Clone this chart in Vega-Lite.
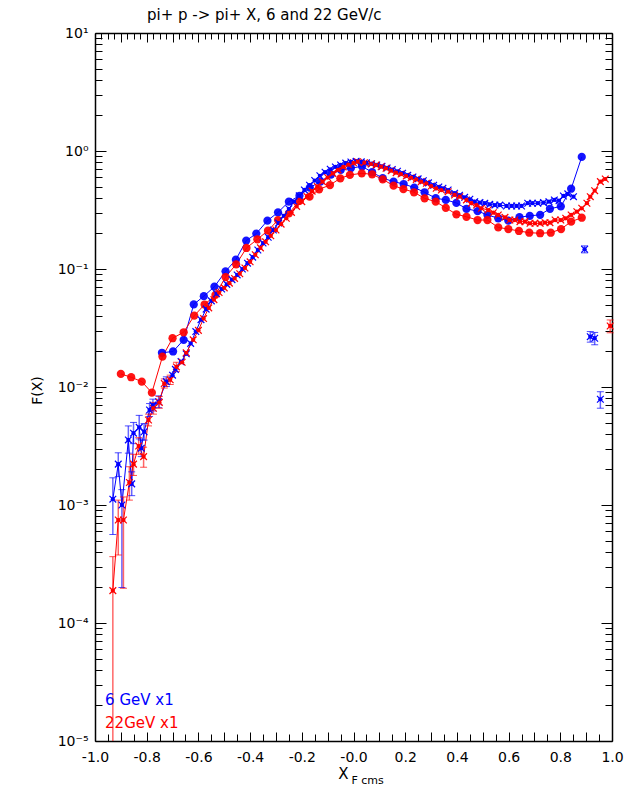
{
  "$schema": "https://vega.github.io/schema/vega-lite/v6.json",
  "width": 517,
  "height": 708,
  "autosize": {"type": "none"},
  "padding": {"left": 95, "top": 33, "right": 20, "bottom": 58},
  "background": "white",
  "config": {"view": {"stroke": null}, "font": "DejaVu Sans"},
  "title": {"text": "pi+ p -> pi+ X, 6 and 22 GeV/c", "anchor": "start", "frame": "group", "dx": 52, "offset": 3, "fontSize": 15, "fontWeight": "normal", "font": "DejaVu Sans", "color": "black"},
  "datasets": {
    "pts": [
      {"s":"BC","x":-0.741,"y":0.0195},{"s":"BC","x":-0.698,"y":0.0200},{"s":"BC","x":-0.657,"y":0.0251},{"s":"BC","x":-0.618,"y":0.0501},{"s":"BC","x":-0.579,"y":0.0589},{"s":"BC","x":-0.538,"y":0.0708},{"s":"BC","x":-0.495,"y":0.0955},{"s":"BC","x":-0.455,"y":0.120},{"s":"BC","x":-0.415,"y":0.174},{"s":"BC","x":-0.376,"y":0.1995},{"s":"BC","x":-0.333,"y":0.257},{"s":"BC","x":-0.292,"y":0.302},{"s":"BC","x":-0.250,"y":0.372},{"s":"BC","x":-0.209,"y":0.417},{"s":"BC","x":-0.169,"y":0.490},{"s":"BC","x":-0.128,"y":0.550},{"s":"BC","x":-0.087,"y":0.631},{"s":"BC","x":-0.049,"y":0.692},{"s":"BC","x":-0.010,"y":0.716},{"s":"BC","x":0.033,"y":0.741},{"s":"BC","x":0.072,"y":0.661},{"s":"BC","x":0.113,"y":0.589},{"s":"BC","x":0.155,"y":0.550},{"s":"BC","x":0.194,"y":0.525},{"s":"BC","x":0.235,"y":0.490},{"s":"BC","x":0.275,"y":0.447},{"s":"BC","x":0.318,"y":0.398},{"s":"BC","x":0.357,"y":0.385},{"s":"BC","x":0.398,"y":0.363},{"s":"BC","x":0.437,"y":0.324},{"s":"BC","x":0.480,"y":0.309},{"s":"BC","x":0.518,"y":0.288},{"s":"BC","x":0.560,"y":0.269},{"s":"BC","x":0.599,"y":0.257},{"s":"BC","x":0.642,"y":0.275},{"s":"BC","x":0.682,"y":0.282},{"s":"BC","x":0.722,"y":0.288},{"s":"BC","x":0.760,"y":0.324},{"s":"BC","x":0.802,"y":0.339},{"s":"BC","x":0.842,"y":0.479},{"s":"BC","x":0.883,"y":0.891},

      {"s":"RC","x":-0.900,"y":0.0129},{"s":"RC","x":-0.860,"y":0.0121},{"s":"RC","x":-0.819,"y":0.0111},{"s":"RC","x":-0.780,"y":0.00895},{"s":"RC","x":-0.739,"y":0.0181},{"s":"RC","x":-0.700,"y":0.0259},{"s":"RC","x":-0.657,"y":0.0291},{"s":"RC","x":-0.616,"y":0.0402},{"s":"RC","x":-0.576,"y":0.0500},{"s":"RC","x":-0.534,"y":0.0603},{"s":"RC","x":-0.495,"y":0.0855},{"s":"RC","x":-0.454,"y":0.1096},{"s":"RC","x":-0.414,"y":0.1507},{"s":"RC","x":-0.372,"y":0.1786},{"s":"RC","x":-0.331,"y":0.2113},{"s":"RC","x":-0.292,"y":0.260},{"s":"RC","x":-0.250,"y":0.296},{"s":"RC","x":-0.210,"y":0.377},{"s":"RC","x":-0.170,"y":0.410},{"s":"RC","x":-0.133,"y":0.473},{"s":"RC","x":-0.091,"y":0.515},{"s":"RC","x":-0.051,"y":0.587},{"s":"RC","x":-0.014,"y":0.627},{"s":"RC","x":0.032,"y":0.647},{"s":"RC","x":0.072,"y":0.635},{"s":"RC","x":0.113,"y":0.575},{"s":"RC","x":0.155,"y":0.508},{"s":"RC","x":0.193,"y":0.476},{"s":"RC","x":0.234,"y":0.447},{"s":"RC","x":0.275,"y":0.397},{"s":"RC","x":0.318,"y":0.372},{"s":"RC","x":0.357,"y":0.330},{"s":"RC","x":0.398,"y":0.291},{"s":"RC","x":0.437,"y":0.277},{"s":"RC","x":0.480,"y":0.260},{"s":"RC","x":0.518,"y":0.260},{"s":"RC","x":0.560,"y":0.225},{"s":"RC","x":0.599,"y":0.218},{"s":"RC","x":0.640,"y":0.210},{"s":"RC","x":0.680,"y":0.203},{"s":"RC","x":0.722,"y":0.201},{"s":"RC","x":0.763,"y":0.203},{"s":"RC","x":0.803,"y":0.218},{"s":"RC","x":0.842,"y":0.252},{"s":"RC","x":0.883,"y":0.272},

      {"s":"BX","x":-0.931,"y":0.00112,"lo":0.000562,"hi":0.00170},{"s":"BX","x":-0.910,"y":0.00222,"lo":0.00174,"hi":0.00277},{"s":"BX","x":-0.896,"y":0.00100,"lo":0.000200,"hi":0.00135},{"s":"BX","x":-0.871,"y":0.00356,"lo":0.00275,"hi":0.00468},{"s":"BX","x":-0.858,"y":0.00151,"lo":0.00120,"hi":0.00191},{"s":"BX","x":-0.851,"y":0.00406,"lo":0.00331,"hi":0.00501},{"s":"BX","x":-0.829,"y":0.00455,"lo":0.00363,"hi":0.00575},{"s":"BX","x":-0.821,"y":0.00303,"lo":0.00257,"hi":0.00355},{"s":"BX","x":-0.810,"y":0.00418,"lo":0.00355,"hi":0.00490},{"s":"BX","x":-0.789,"y":0.00638,"lo":0.00562,"hi":0.00724},{"s":"BX","x":-0.776,"y":0.00703,"lo":0.00627,"hi":0.00789},{"s":"BX","x":-0.754,"y":0.00750,"lo":0.00668,"hi":0.00841},{"s":"BX","x":-0.724,"y":0.0111,"lo":0.0101,"hi":0.0122},{"s":"BX","x":-0.700,"y":0.0126},{"s":"BX","x":-0.689,"y":0.0141},{"s":"BX","x":-0.667,"y":0.0164},{"s":"BX","x":-0.647,"y":0.0191},{"s":"BX","x":-0.63,"y":0.0234},{"s":"BX","x":-0.61,"y":0.0295},{"s":"BX","x":-0.59,"y":0.0372},{"s":"BX","x":-0.57,"y":0.0457},{"s":"BX","x":-0.55,"y":0.0537},{"s":"BX","x":-0.53,"y":0.0617},{"s":"BX","x":-0.51,"y":0.0676},{"s":"BX","x":-0.49,"y":0.0741},{"s":"BX","x":-0.47,"y":0.0813},{"s":"BX","x":-0.45,"y":0.0891},{"s":"BX","x":-0.43,"y":0.100},{"s":"BX","x":-0.41,"y":0.112},{"s":"BX","x":-0.39,"y":0.126},{"s":"BX","x":-0.37,"y":0.145},{"s":"BX","x":-0.35,"y":0.166},{"s":"BX","x":-0.33,"y":0.186},{"s":"BX","x":-0.31,"y":0.214},{"s":"BX","x":-0.29,"y":0.245},{"s":"BX","x":-0.27,"y":0.282},{"s":"BX","x":-0.25,"y":0.324},{"s":"BX","x":-0.23,"y":0.372},{"s":"BX","x":-0.21,"y":0.417},{"s":"BX","x":-0.19,"y":0.468},{"s":"BX","x":-0.17,"y":0.513},{"s":"BX","x":-0.15,"y":0.562},{"s":"BX","x":-0.13,"y":0.617},{"s":"BX","x":-0.11,"y":0.661},{"s":"BX","x":-0.09,"y":0.700},{"s":"BX","x":-0.07,"y":0.733},{"s":"BX","x":-0.05,"y":0.762},{"s":"BX","x":-0.03,"y":0.789},{"s":"BX","x":-0.01,"y":0.807},{"s":"BX","x":0.01,"y":0.817},{"s":"BX","x":0.03,"y":0.809},{"s":"BX","x":0.05,"y":0.794},{"s":"BX","x":0.07,"y":0.780},{"s":"BX","x":0.09,"y":0.762},{"s":"BX","x":0.11,"y":0.741},{"s":"BX","x":0.13,"y":0.719},{"s":"BX","x":0.15,"y":0.695},{"s":"BX","x":0.17,"y":0.673},{"s":"BX","x":0.19,"y":0.649},{"s":"BX","x":0.21,"y":0.624},{"s":"BX","x":0.23,"y":0.603},{"s":"BX","x":0.25,"y":0.581},{"s":"BX","x":0.27,"y":0.560},{"s":"BX","x":0.29,"y":0.537},{"s":"BX","x":0.31,"y":0.513},{"s":"BX","x":0.33,"y":0.495},{"s":"BX","x":0.346,"y":0.483},{"s":"BX","x":0.366,"y":0.467},{"s":"BX","x":0.391,"y":0.439},{"s":"BX","x":0.41,"y":0.422},{"s":"BX","x":0.43,"y":0.405},{"s":"BX","x":0.450,"y":0.390},{"s":"BX","x":0.469,"y":0.372},{"s":"BX","x":0.489,"y":0.365},{"s":"BX","x":0.508,"y":0.361},{"s":"BX","x":0.527,"y":0.353},{"s":"BX","x":0.547,"y":0.348},{"s":"BX","x":0.566,"y":0.348},{"s":"BX","x":0.592,"y":0.342},{"s":"BX","x":0.612,"y":0.342},{"s":"BX","x":0.631,"y":0.342},{"s":"BX","x":0.650,"y":0.342},{"s":"BX","x":0.674,"y":0.361},{"s":"BX","x":0.692,"y":0.361},{"s":"BX","x":0.713,"y":0.361},{"s":"BX","x":0.735,"y":0.365},{"s":"BX","x":0.756,"y":0.372},{"s":"BX","x":0.777,"y":0.385},{"s":"BX","x":0.795,"y":0.379},{"s":"BX","x":0.812,"y":0.416},{"s":"BX","x":0.829,"y":0.433},{"s":"BX","x":0.851,"y":0.410},

      {"s":"BO","x":0.894,"y":0.147,"lo":0.137,"hi":0.157},{"s":"BO","x":0.916,"y":0.0267,"lo":0.0240,"hi":0.0295},{"s":"BO","x":0.933,"y":0.0259,"lo":0.0228,"hi":0.0290},{"s":"BO","x":0.955,"y":0.00787,"lo":0.00661,"hi":0.00912},

      {"s":"RX","x":-0.931,"y":0.000188,"lo":0.000001,"hi":0.000365},{"s":"RX","x":-0.910,"y":0.000746,"lo":0.000377,"hi":0.00110},{"s":"RX","x":-0.890,"y":0.000746,"lo":0.000197,"hi":0.00117},{"s":"RX","x":-0.867,"y":0.00155,"lo":0.00110,"hi":0.00211},{"s":"RX","x":-0.851,"y":0.00222,"lo":0.00178,"hi":0.00269},{"s":"RX","x":-0.831,"y":0.00316,"lo":0.00269,"hi":0.00372},{"s":"RX","x":-0.812,"y":0.00257,"lo":0.00209,"hi":0.00309},{"s":"RX","x":-0.793,"y":0.00525,"lo":0.00468,"hi":0.00589},{"s":"RX","x":-0.774,"y":0.00661,"lo":0.00589,"hi":0.00741},{"s":"RX","x":-0.751,"y":0.00741,"lo":0.00661,"hi":0.00832},{"s":"RX","x":-0.732,"y":0.0107,"lo":0.0098,"hi":0.0117},{"s":"RX","x":-0.709,"y":0.0115,"lo":0.0105,"hi":0.0126},{"s":"RX","x":-0.685,"y":0.0148,"lo":0.0135,"hi":0.0162},{"s":"RX","x":-0.663,"y":0.0162},{"s":"RX","x":-0.647,"y":0.0195},{"s":"RX","x":-0.62,"y":0.0251},{"s":"RX","x":-0.60,"y":0.0302},{"s":"RX","x":-0.58,"y":0.0380},{"s":"RX","x":-0.56,"y":0.0468},{"s":"RX","x":-0.54,"y":0.0550},{"s":"RX","x":-0.52,"y":0.0631},{"s":"RX","x":-0.50,"y":0.0692},{"s":"RX","x":-0.48,"y":0.0759},{"s":"RX","x":-0.46,"y":0.0832},{"s":"RX","x":-0.44,"y":0.0912},{"s":"RX","x":-0.42,"y":0.102},{"s":"RX","x":-0.40,"y":0.115},{"s":"RX","x":-0.38,"y":0.132},{"s":"RX","x":-0.36,"y":0.151},{"s":"RX","x":-0.34,"y":0.170},{"s":"RX","x":-0.32,"y":0.191},{"s":"RX","x":-0.30,"y":0.214},{"s":"RX","x":-0.28,"y":0.240},{"s":"RX","x":-0.26,"y":0.269},{"s":"RX","x":-0.24,"y":0.302},{"s":"RX","x":-0.22,"y":0.339},{"s":"RX","x":-0.20,"y":0.372},{"s":"RX","x":-0.18,"y":0.412},{"s":"RX","x":-0.16,"y":0.457},{"s":"RX","x":-0.14,"y":0.501},{"s":"RX","x":-0.12,"y":0.550},{"s":"RX","x":-0.10,"y":0.596},{"s":"RX","x":-0.08,"y":0.646},{"s":"RX","x":-0.06,"y":0.692},{"s":"RX","x":-0.04,"y":0.733},{"s":"RX","x":-0.02,"y":0.767},{"s":"RX","x":0.00,"y":0.794},{"s":"RX","x":0.016,"y":0.811},{"s":"RX","x":0.042,"y":0.796},{"s":"RX","x":0.068,"y":0.776},{"s":"RX","x":0.087,"y":0.760},{"s":"RX","x":0.107,"y":0.736},{"s":"RX","x":0.126,"y":0.713},{"s":"RX","x":0.146,"y":0.681},{"s":"RX","x":0.165,"y":0.655},{"s":"RX","x":0.184,"y":0.638},{"s":"RX","x":0.204,"y":0.614},{"s":"RX","x":0.223,"y":0.594},{"s":"RX","x":0.243,"y":0.575},{"s":"RX","x":0.262,"y":0.550},{"s":"RX","x":0.282,"y":0.532},{"s":"RX","x":0.301,"y":0.505},{"s":"RX","x":0.320,"y":0.483},{"s":"RX","x":0.340,"y":0.467},{"s":"RX","x":0.366,"y":0.452},{"s":"RX","x":0.391,"y":0.424},{"s":"RX","x":0.411,"y":0.410},{"s":"RX","x":0.437,"y":0.385},{"s":"RX","x":0.456,"y":0.361},{"s":"RX","x":0.476,"y":0.348},{"s":"RX","x":0.495,"y":0.327},{"s":"RX","x":0.521,"y":0.316},{"s":"RX","x":0.541,"y":0.300},{"s":"RX","x":0.560,"y":0.287},{"s":"RX","x":0.586,"y":0.274},{"s":"RX","x":0.605,"y":0.260},{"s":"RX","x":0.624,"y":0.260},{"s":"RX","x":0.644,"y":0.252},{"s":"RX","x":0.663,"y":0.252},{"s":"RX","x":0.683,"y":0.244},{"s":"RX","x":0.702,"y":0.244},{"s":"RX","x":0.722,"y":0.244},{"s":"RX","x":0.741,"y":0.247},{"s":"RX","x":0.760,"y":0.247},{"s":"RX","x":0.780,"y":0.260},{"s":"RX","x":0.802,"y":0.260},{"s":"RX","x":0.821,"y":0.269},{"s":"RX","x":0.842,"y":0.287},{"s":"RX","x":0.864,"y":0.306},{"s":"RX","x":0.883,"y":0.327},{"s":"RX","x":0.903,"y":0.361},{"s":"RX","x":0.916,"y":0.410},{"s":"RX","x":0.933,"y":0.461},{"s":"RX","x":0.955,"y":0.550},{"s":"RX","x":0.974,"y":0.579},

      {"s":"RO","x":0.993,"y":0.0329,"lo":0.0288,"hi":0.0370}
    ],
    "lbl": [
      {"t":"6 GeV x1","x":-0.961,"y":0.0000202,"s":"BC","k":"leg"},
      {"t":"22GeV x1","x":-0.961,"y":0.0000129,"s":"RC","k":"leg"},
      {"t":"F cms","x":-0.008,"y":0.00001,"s":"K","k":"sub"}
    ]
  },
  "resolve": {"axis": {"x": "independent", "y": "independent"}},
  "layer": [
    {
      "data": {"name": "pts"},
      "transform": [{"filter": "datum.s == 'BC' || datum.s == 'RC'"}],
      "mark": {"type": "line", "strokeWidth": 1},
      "encoding": {
        "x": {"field": "x", "type": "quantitative", "scale": {"domain": [-1, 1], "nice": false, "zero": false},
          "axis": {"orient": "bottom", "values": [-1,-0.95,-0.9,-0.85,-0.8,-0.75,-0.7,-0.65,-0.6,-0.55,-0.5,-0.45,-0.4,-0.35,-0.3,-0.25,-0.2,-0.15,-0.1,-0.05,0,0.05,0.1,0.15,0.2,0.25,0.3,0.35,0.4,0.45,0.5,0.55,0.6,0.65,0.7,0.75,0.8,0.85,0.9,0.95,1],
            "grid": false, "tickSize": -9, "tickColor": "black", "tickWidth": 1,
            "tickDash": {"condition": {"test": "abs(datum.value*10 - round(datum.value*10)) < 0.01", "value": [20, 1]}, "value": [7, 20]},
            "domainColor": "black", "domainWidth": 1.5,
            "labelPadding": 18, "labelFontSize": 14, "labelColor": "black", "labelFont": "DejaVu Sans", "labelFlush": false, "labelOverlap": false,
            "labelExpr": "abs(datum.value*5 - round(datum.value*5)) < 0.01 ? (datum.value < 0.001 ? '-' : '') + format(abs(datum.value), '.1f') : ''",
            "title": "X", "titleFontSize": 15, "titleFontWeight": "normal", "titleFont": "DejaVu Sans", "titleColor": "black",
            "titleX": 248, "titleY": 25, "titleAlign": "center", "titleBaseline": "top"}},
        "y": {"field": "y", "type": "quantitative", "scale": {"type": "log", "domain": [0.00001, 10], "nice": false},
          "axis": {"orient": "left", "values": [0.00001,0.00002,0.00003,0.00004,0.00005,0.00006,0.00007,0.00008,0.00009,0.0001,0.0002,0.0003,0.0004,0.0005,0.0006,0.0007,0.0008,0.0009,0.001,0.002,0.003,0.004,0.005,0.006,0.007,0.008,0.009,0.01,0.02,0.03,0.04,0.05,0.06,0.07,0.08,0.09,0.1,0.2,0.3,0.4,0.5,0.6,0.7,0.8,0.9,1,2,3,4,5,6,7,8,9,10],
            "grid": false, "tickSize": -11, "tickColor": "black", "tickWidth": 1,
            "tickDash": {"condition": {"test": "abs(log(datum.value)/LN10 - round(log(datum.value)/LN10)) < 0.01", "value": [20, 1]}, "value": [7, 20]},
            "domainColor": "black", "domainWidth": 1.5,
            "labelPadding": 18, "labelFontSize": 14, "labelColor": "black", "labelFont": "DejaVu Sans", "labelFlush": false, "labelOverlap": false, "labelBaseline": "middle",
            "labelExpr": "abs(log(datum.value)/LN10 - round(log(datum.value)/LN10)) < 0.01 ? '10' + ['⁻⁵','⁻⁴','⁻³','⁻²','⁻¹','⁰','¹'][round(log(datum.value)/LN10)+5] : ''",
            "title": "F(X)", "titleFontSize": 14, "titleFontWeight": "normal", "titleFont": "DejaVu Sans", "titleColor": "black",
            "titleX": -58, "titleY": 357, "titleAngle": -90, "titleAlign": "center", "titleBaseline": "middle"}},
        "color": {"field": "s", "type": "nominal", "scale": {"domain": ["BC","BX","BO","RC","RX","RO","K"], "range": ["#0000ff","#0000ff","#0000ff","#ff0000","#ff0000","#ff0000","#000000"]}, "legend": null},
        "detail": {"field": "s"}
      }
    },
    {
      "data": {"name": "pts"},
      "transform": [{"filter": "datum.s == 'BX' || datum.s == 'RX'"}],
      "mark": {"type": "line", "strokeWidth": 1},
      "encoding": {
        "x": {"field": "x", "type": "quantitative", "axis": null},
        "y": {"field": "y", "type": "quantitative", "axis": null},
        "color": {"field": "s", "type": "nominal", "legend": null},
        "detail": {"field": "s"}
      }
    },
    {
      "data": {"name": "pts"},
      "transform": [{"filter": "isValid(datum.lo)"}],
      "mark": {"type": "rule", "strokeWidth": 1.5, "opacity": 0.6, "clip": true},
      "encoding": {
        "x": {"field": "x", "type": "quantitative", "axis": null},
        "y": {"field": "lo", "type": "quantitative", "axis": null},
        "y2": {"field": "hi"},
        "color": {"field": "s", "type": "nominal", "legend": null}
      }
    },
    {
      "data": {"name": "pts"},
      "transform": [{"filter": "isValid(datum.lo) && datum.lo >= 0.00001"}],
      "mark": {"type": "tick", "orient": "horizontal", "size": 7, "thickness": 1},
      "encoding": {
        "x": {"field": "x", "type": "quantitative", "axis": null},
        "y": {"field": "lo", "type": "quantitative", "axis": null},
        "color": {"field": "s", "type": "nominal", "legend": null}
      }
    },
    {
      "data": {"name": "pts"},
      "transform": [{"filter": "isValid(datum.hi)"}],
      "mark": {"type": "tick", "orient": "horizontal", "size": 7, "thickness": 1},
      "encoding": {
        "x": {"field": "x", "type": "quantitative", "axis": null},
        "y": {"field": "hi", "type": "quantitative", "axis": null},
        "color": {"field": "s", "type": "nominal", "legend": null}
      }
    },
    {
      "data": {"name": "pts"},
      "transform": [{"filter": "datum.s == 'BC' || datum.s == 'RC'"}],
      "mark": {"type": "point", "shape": "circle", "filled": true, "size": 68, "opacity": 0.92},
      "encoding": {
        "x": {"field": "x", "type": "quantitative", "axis": null},
        "y": {"field": "y", "type": "quantitative", "axis": null},
        "color": {"field": "s", "type": "nominal", "legend": null}
      }
    },
    {
      "data": {"name": "pts"},
      "transform": [{"filter": "datum.s == 'BX' || datum.s == 'RX' || datum.s == 'BO' || datum.s == 'RO'"}],
      "mark": {"type": "point", "shape": "M-1,-1L1,1M-1,1L1,-1", "filled": false, "size": 45, "strokeWidth": 1.2, "opacity": 1},
      "encoding": {
        "x": {"field": "x", "type": "quantitative", "axis": null},
        "y": {"field": "y", "type": "quantitative", "axis": null},
        "color": {"field": "s", "type": "nominal", "legend": null}
      }
    },
    {
      "data": {"name": "pts"},
      "transform": [{"filter": "datum.s == 'BX' || datum.s == 'RX' || datum.s == 'BO' || datum.s == 'RO'"}],
      "mark": {"type": "point", "shape": "circle", "filled": true, "size": 18, "opacity": 1},
      "encoding": {
        "x": {"field": "x", "type": "quantitative", "axis": null},
        "y": {"field": "y", "type": "quantitative", "axis": null},
        "color": {"field": "s", "type": "nominal", "legend": null}
      }
    },
    {
      "data": {"name": "lbl"},
      "transform": [{"filter": "datum.k == 'leg'"}],
      "mark": {"type": "text", "align": "left", "baseline": "alphabetic", "fontSize": 15, "font": "DejaVu Sans"},
      "encoding": {
        "x": {"field": "x", "type": "quantitative", "axis": null},
        "y": {"field": "y", "type": "quantitative", "axis": null},
        "text": {"field": "t"},
        "color": {"field": "s", "type": "nominal", "legend": null}
      }
    },
    {
      "data": {"name": "lbl"},
      "transform": [{"filter": "datum.k == 'sub'"}],
      "mark": {"type": "text", "align": "left", "baseline": "middle", "fontSize": 11, "font": "DejaVu Sans", "dy": 40},
      "encoding": {
        "x": {"field": "x", "type": "quantitative", "axis": null},
        "y": {"field": "y", "type": "quantitative", "axis": null},
        "text": {"field": "t"},
        "color": {"field": "s", "type": "nominal", "legend": null}
      }
    },
    {
      "data": {"name": "pts"},
      "mark": {"type": "point", "opacity": 0},
      "encoding": {
        "x": {"field": "x", "type": "quantitative",
          "axis": {"orient": "top", "values": [-1,-0.975,-0.95,-0.925,-0.9,-0.875,-0.85,-0.825,-0.8,-0.775,-0.75,-0.725,-0.7,-0.675,-0.65,-0.625,-0.6,-0.575,-0.55,-0.525,-0.5,-0.475,-0.45,-0.425,-0.4,-0.375,-0.35,-0.325,-0.3,-0.275,-0.25,-0.225,-0.2,-0.175,-0.15,-0.125,-0.1,-0.075,-0.05,-0.025,0,0.025,0.05,0.075,0.1,0.125,0.15,0.175,0.2,0.225,0.25,0.275,0.3,0.325,0.35,0.375,0.4,0.425,0.45,0.475,0.5,0.525,0.55,0.575,0.6,0.625,0.65,0.675,0.7,0.725,0.75,0.775,0.8,0.825,0.85,0.875,0.9,0.925,0.95,0.975,1],
            "grid": false, "labels": false, "title": null, "tickSize": -9, "tickColor": "black", "tickWidth": 1,
            "tickDash": {"condition": {"test": "abs(datum.value*10 - round(datum.value*10)) < 0.01", "value": [20, 1]}, "value": [6, 20]},
            "domainColor": "black", "domainWidth": 1.5}},
        "y": {"field": "y", "type": "quantitative",
          "axis": {"orient": "right", "values": [0.00001,0.00002,0.00003,0.00004,0.00005,0.00006,0.00007,0.00008,0.00009,0.0001,0.0002,0.0003,0.0004,0.0005,0.0006,0.0007,0.0008,0.0009,0.001,0.002,0.003,0.004,0.005,0.006,0.007,0.008,0.009,0.01,0.02,0.03,0.04,0.05,0.06,0.07,0.08,0.09,0.1,0.2,0.3,0.4,0.5,0.6,0.7,0.8,0.9,1,2,3,4,5,6,7,8,9,10],
            "grid": false, "labels": false, "title": null, "tickSize": -11, "tickColor": "black", "tickWidth": 1,
            "tickDash": {"condition": {"test": "abs(log(datum.value)/LN10 - round(log(datum.value)/LN10)) < 0.01", "value": [20, 1]}, "value": [7, 20]},
            "domainColor": "black", "domainWidth": 1.5}}
      }
    }
  ]
}
